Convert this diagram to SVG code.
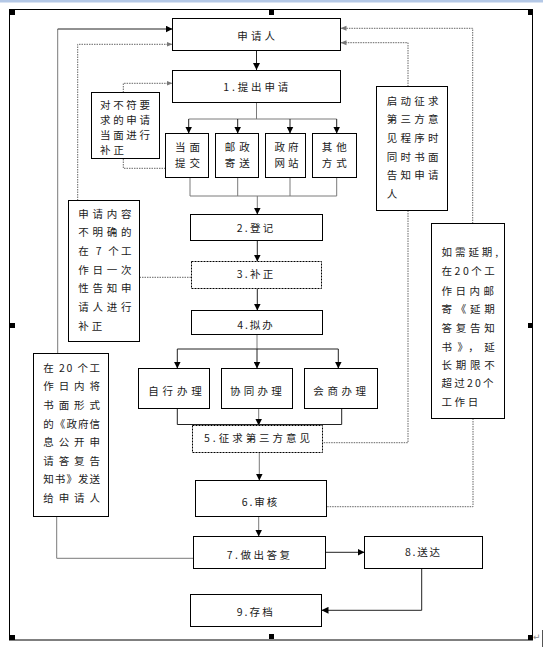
<svg xmlns="http://www.w3.org/2000/svg" width="543" height="650" viewBox="0 0 543 650">
<defs>
<style>
text{font-family:"Noto Sans CJK SC","Liberation Sans",sans-serif;font-size:10.5px;fill:#1a1a1a;}
.c{text-anchor:middle;}
.box{fill:#fff;stroke:#000;stroke-width:1;}
.dbox{fill:#fff;stroke:#000;stroke-width:1;stroke-dasharray:2,1;}
.ln{fill:none;stroke:#222;stroke-width:1;}
.gl{fill:none;stroke:#7a7a7a;stroke-width:1;}
.dl{fill:none;stroke:#666;stroke-width:1;stroke-dasharray:1.5,1;}
.h{fill:#000;}
</style>
<marker id="ah" viewBox="0 0 7 7" refX="7" refY="3.5" markerWidth="7" markerHeight="7" markerUnits="userSpaceOnUse" orient="auto"><path d="M0,0 L7,3.5 L0,7 z" fill="#000"/></marker>
<marker id="ag" viewBox="0 0 6 6" refX="6" refY="3" markerWidth="6" markerHeight="6" markerUnits="userSpaceOnUse" orient="auto"><path d="M0,0.5 L6,3 L0,5.5 z" fill="#777"/></marker>
</defs>
<rect x="0" y="0" width="543" height="2.5" fill="#b4c8e6"/>
<rect x="9.5" y="9.5" width="523" height="630.5" fill="#fff" stroke="#000" stroke-width="1"/>
<g id="handles">
<rect class="h" x="10" y="10" width="5" height="5"/><rect class="h" x="269" y="10" width="5" height="5"/><rect class="h" x="528" y="10" width="5" height="5"/>
<rect class="h" x="10" y="323" width="5" height="5"/><rect class="h" x="528" y="323" width="5" height="5"/>
<rect class="h" x="10" y="635" width="5" height="5"/><rect class="h" x="269" y="634" width="5" height="5"/><rect class="h" x="528" y="635" width="5" height="5"/>
</g>
<text x="533" y="640" style="font-size:9px;fill:#888;font-family:'DejaVu Sans',sans-serif">↵</text>
<line x1="542.5" y1="630" x2="542.5" y2="647" stroke="#555" stroke-width="1"/>

<g id="connectors">
<path class="ln" d="M256.5,51 V70" marker-end="url(#ah)"/>
<path class="gl" d="M256.5,102.5 V119 M188.7,119 H336.7"/>
<path class="ln" d="M188.7,119 V133.5" marker-end="url(#ah)"/>
<path class="ln" d="M237.7,119 V133.5" marker-end="url(#ah)"/>
<path class="ln" d="M290,119 V133.5" marker-end="url(#ah)"/>
<path class="ln" d="M336.7,119 V133.5" marker-end="url(#ah)"/>
<path class="gl" d="M190,177.5 V196 M237.7,177.5 V196 M290,177.5 V196 M336.7,177.5 V196 M190,196 H336.7"/>
<path class="gl" d="M257.3,196 V214.5" marker-end="url(#ah)"/>
<path class="ln" d="M257.3,240.5 V261.5" marker-end="url(#ah)"/>
<path class="ln" d="M257.3,288.5 V310.5" marker-end="url(#ah)"/>
<path class="gl" d="M257,334.5 V349"/>
<path class="ln" d="M177.3,349 H338.3"/>
<path class="ln" d="M177.3,349 V368.5" marker-end="url(#ah)"/>
<path class="ln" d="M257,349 V368.5" marker-end="url(#ah)"/>
<path class="ln" d="M338.3,349 V368.5" marker-end="url(#ah)"/>
<path class="ln" d="M177.3,408.5 V424.5 H341.7 V408.5"/>
<path class="gl" d="M258.7,408.5 V425.5" marker-end="url(#ah)"/>
<path class="gl" d="M259.3,452.5 V480.5" marker-end="url(#ah)"/>
<path class="gl" d="M258.7,516.5 V536.5" marker-end="url(#ah)"/>
<path class="ln" d="M325.5,552.3 H364.5" marker-end="url(#ah)"/>
<path class="ln" d="M421.7,568.5 V610.3 H321.5" marker-end="url(#ah)"/>
<path class="gl" d="M57.7,353.5 V29"/>
<path class="ln" d="M57.7,29 H172.5" marker-end="url(#ah)"/>
<path class="gl" d="M56.7,516.5 V558.3 H193.5"/>
<path class="dl" d="M77.7,200.5 V44.3 H172.5" marker-end="url(#ag)"/>
<path class="dl" d="M165.5,168.3 H123.3 V158.5"/>
<path class="dl" d="M123.3,92.5 V83.3 H172.5" marker-end="url(#ag)"/>
<path class="dl" d="M139.5,277.3 H191.5"/>
<path class="dl" d="M408,86.5 V42.7 H340.5" marker-end="url(#ag)"/>
<path class="dl" d="M408,210.5 V442.7 H322.5"/>
<path class="dl" d="M472.7,223.5 V28.3 H340.5" marker-end="url(#ag)"/>
<path class="dl" d="M473,418.5 V506.7 H326.5"/>
</g>

<g id="n-applicant"><rect class="box" x="172.5" y="18.5" width="168" height="32"/><text class="c" x="256.2" y="39.8" textLength="37.7">申请人</text></g>
<g id="n1"><rect class="box" x="172.5" y="70.5" width="168" height="32"/><text class="c" x="255.8" y="91" textLength="65">1.提出申请</text></g>
<g id="n-face"><rect class="box" x="165.5" y="133.5" width="43" height="44"/><text class="c" x="187.5" y="150.7" textLength="25">当面</text><text class="c" x="187.5" y="167.3" textLength="25">提交</text></g>
<g id="n-post"><rect class="box" x="215.5" y="133.5" width="43" height="44"/><text class="c" x="237.3" y="150.7" textLength="25">邮政</text><text class="c" x="237.3" y="167.3" textLength="25">寄送</text></g>
<g id="n-web"><rect class="box" x="265.5" y="133.5" width="40" height="44"/><text class="c" x="286.5" y="150.7" textLength="24">政府</text><text class="c" x="286.5" y="167.3" textLength="24">网站</text></g>
<g id="n-other"><rect class="box" x="312.5" y="133.5" width="44" height="44"/><text class="c" x="334.2" y="150.7" textLength="25">其他</text><text class="c" x="334.2" y="167.3" textLength="25">方式</text></g>
<g id="n2"><rect class="box" x="190.5" y="214.5" width="132" height="26"/><text class="c" x="255" y="231.7" textLength="36.6">2.登记</text></g>
<g id="n3"><rect class="dbox" x="191.5" y="261.5" width="130" height="27"/><text class="c" x="255" y="278.3" textLength="36.6">3.补正</text></g>
<g id="n4"><rect class="box" x="191.5" y="310.5" width="131" height="24"/><text class="c" x="255" y="329" textLength="35.4">4.拟办</text></g>
<g id="n-self"><rect class="box" x="138.5" y="368.5" width="71" height="40"/><text class="c" x="175" y="395" textLength="53.3">自行办理</text></g>
<g id="n-coop"><rect class="box" x="221.5" y="368.5" width="71" height="40"/><text class="c" x="255.8" y="395" textLength="51.7">协同办理</text></g>
<g id="n-consult"><rect class="box" x="304.5" y="368.5" width="73" height="40"/><text class="c" x="339.7" y="395" textLength="52.7">会商办理</text></g>
<g id="n5"><rect class="dbox" x="192.5" y="425.5" width="130" height="27"/><text class="c" x="257" y="442.3" textLength="106">5.征求第三方意见</text></g>
<g id="n6"><rect class="box" x="195.5" y="480.5" width="131" height="36"/><text class="c" x="259.5" y="506.3" textLength="35.6">6.审核</text></g>
<g id="n7"><rect class="box" x="193.5" y="536.5" width="132" height="32"/><text class="c" x="258.3" y="559" textLength="63.3">7.做出答复</text></g>
<g id="n8"><rect class="box" x="364.5" y="536.5" width="118" height="32"/><text class="c" x="422.5" y="556.3" textLength="35">8.送达</text></g>
<g id="n9"><rect class="box" x="190.5" y="594.5" width="131" height="32"/><text class="c" x="254.7" y="615.7" textLength="36">9.存档</text></g>

<g id="note-face"><rect class="box" x="91.5" y="92.5" width="68" height="66"/>
<text x="100" y="109" textLength="50">对不符要</text><text x="100" y="124" textLength="50">求的申请</text><text x="100" y="139" textLength="50">当面进行</text><text x="100" y="154" textLength="24">补正</text></g>
<g id="note-unclear"><rect class="box" x="68.5" y="200.5" width="71" height="141"/>
<text x="78.3" y="217.5" textLength="53.3">申请内容</text><text x="78.3" y="236.2" textLength="53.3">不明确的</text><text x="78.3" y="254.9" textLength="53.3">在 7 个工</text><text x="78.3" y="273.6" textLength="53.3">作日一次</text><text x="78.3" y="292.3" textLength="53.3">性告知申</text><text x="78.3" y="311" textLength="53.3">请人进行</text><text x="78.3" y="329.7" textLength="24">补正</text></g>
<g id="note-20days"><rect class="box" x="33.5" y="353.5" width="75" height="163"/>
<text x="43.3" y="371.7" textLength="56.7">在 20 个工</text><text x="43.3" y="390.3" textLength="56.7">作日内将</text><text x="43.3" y="408.9" textLength="56.7">书面形式</text><text x="43.3" y="427.5" textLength="56.7">的《政府信</text><text x="43.3" y="446.1" textLength="56.7">息公开申</text><text x="43.3" y="464.7" textLength="56.7">请答复告</text><text x="43.3" y="483.3" textLength="56.7">知书》发送</text><text x="43.3" y="501.9" textLength="56.7">给申请人</text></g>
<g id="note-third"><rect class="box" x="376.5" y="86.5" width="71" height="124"/>
<text x="386.7" y="105" textLength="51.7">启动征求</text><text x="386.7" y="123.4" textLength="51.7">第三方意</text><text x="386.7" y="142" textLength="51.7">见程序时</text><text x="386.7" y="160.6" textLength="51.7">同时书面</text><text x="386.7" y="179.2" textLength="51.7">告知申请</text><text x="386.7" y="197.8">人</text></g>
<g id="note-extend"><rect class="box" x="431.5" y="223.5" width="73" height="195"/>
<text x="441.5" y="256.3" textLength="56.7">如需延期,</text><text x="441.5" y="275" textLength="53.3">在20个工</text><text x="441.5" y="294.7" textLength="52.5">作日内邮</text><text x="441.5" y="313" textLength="53.3">寄《延期</text><text x="441.5" y="332" textLength="53.3">答复告知</text><text x="441.5" y="350.7" textLength="53.3">书》，延</text><text x="441.5" y="369" textLength="53.3">长期限不</text><text x="441.5" y="387.3" textLength="52">超过20个</text><text x="441.5" y="405.7" textLength="36.7">工作日</text></g>
</svg>
